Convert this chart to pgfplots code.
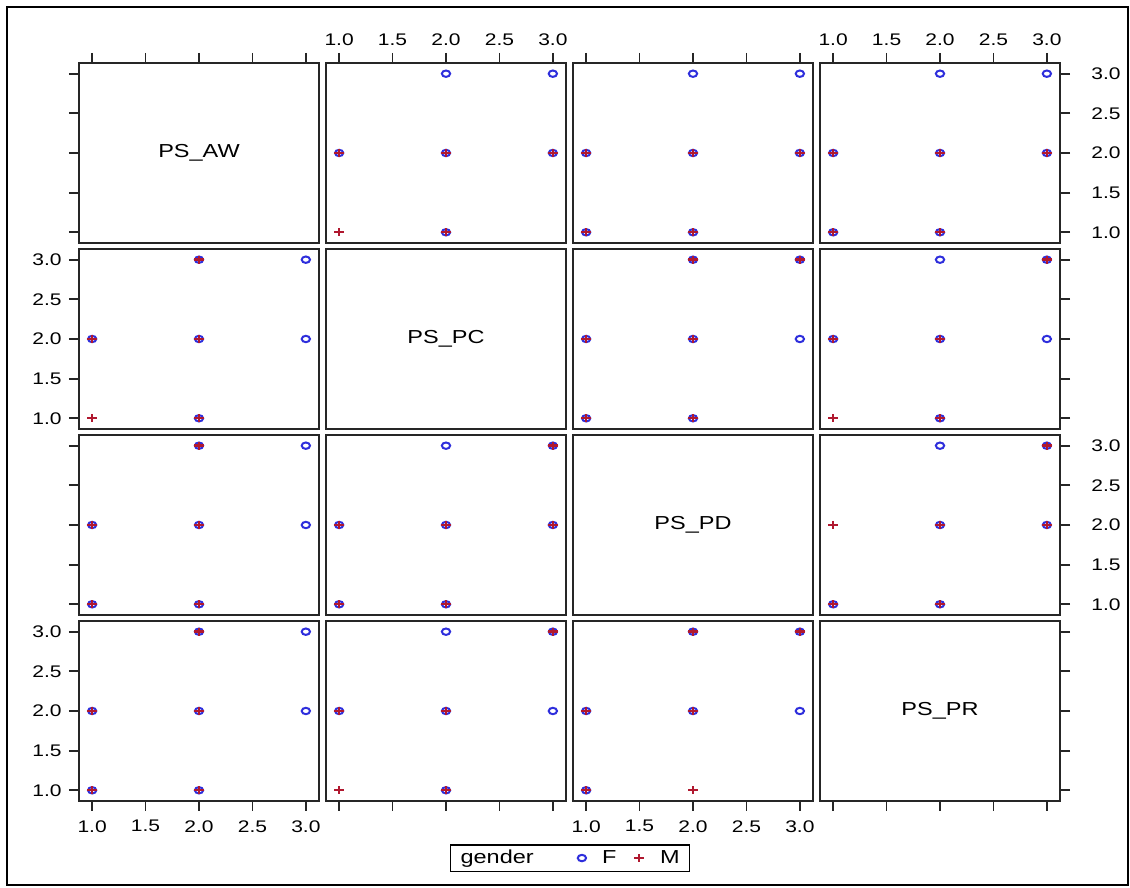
\documentclass[border=0pt]{standalone}
\usepackage{fontspec}
\setmainfont{Liberation Sans}[FakeStretch=1.25]
\usepackage{pgfplots}
\pgfplotsset{compat=1.18}
\usepgfplotslibrary{groupplots}

\definecolor{Fblue}{HTML}{2E2EDC}
\definecolor{Mred}{HTML}{B0182F}

\newcommand{\ticksize}{\fontsize{8.4}{9.5}\selectfont}
\newcommand{\diagsize}{\fontsize{9.4}{11}\selectfont}

\pgfplotsset{
  Fpts/.style={only marks, mark=o, color=Fblue, mark size=1.6pt,
    mark options={line width=1pt, xscale=1.3}},
  Mpts/.style={only marks, mark=+, color=Mred, mark size=2pt,
    mark options={line width=1.2pt, xscale=1.2}},
  top/.style={xtick pos=right, xticklabel pos=right},
  topnl/.style={xtick pos=right, xticklabels={}},
  bot/.style={xtick pos=left, xticklabel pos=left, xticklabel style={yshift=-1pt}},
  botnl/.style={xtick pos=left, xticklabels={}},
  noxt/.style={xtick=\empty},
  lft/.style={ytick pos=left, yticklabel pos=left},
  lftnl/.style={ytick pos=left, yticklabels={}},
  rgt/.style={ytick pos=right, yticklabel pos=right, yticklabel style={xshift=7pt}},
  rgtnl/.style={ytick pos=right, yticklabels={}},
  noyt/.style={ytick=\empty},
}

\begin{document}
\begin{tikzpicture}
\begin{groupplot}[
  group style={group size=4 by 4, horizontal sep=3.5pt, vertical sep=3pt, group name=G},
  scale only axis, width=120pt, height=90pt,
  xmin=0.877, xmax=3.123, ymin=0.865, ymax=3.135,
  xtick={1,1.5,2,2.5,3}, xticklabels={1.0,1.5,2.0,2.5,3.0},
  ytick={1,1.5,2,2.5,3}, yticklabels={1.0,1.5,2.0,2.5,3.0},
  tick align=outside, major tick length=5pt,
  tick style={line width=0.9pt, black!85},
  axis line style={line width=0.9pt, black!85},
  ticklabel style={font=\ticksize, inner sep=3.5pt},
]
% row 1 : PS_AW
\nextgroupplot[topnl, lftnl]
\node[font=\diagsize] at (rel axis cs:0.5,0.5) {PS\_AW};
\nextgroupplot[top, noyt]
\addplot[Fpts] coordinates {(2,3) (3,3) (1,2) (2,2) (3,2) (2,1)};
\addplot[Mpts] coordinates {(1,2) (2,2) (3,2) (1,1) (2,1)};
\nextgroupplot[topnl, noyt]
\addplot[Fpts] coordinates {(2,3) (3,3) (1,2) (2,2) (3,2) (1,1) (2,1)};
\addplot[Mpts] coordinates {(1,2) (2,2) (3,2) (1,1) (2,1)};
\nextgroupplot[top, rgt]
\addplot[Fpts] coordinates {(2,3) (3,3) (1,2) (2,2) (3,2) (1,1) (2,1)};
\addplot[Mpts] coordinates {(1,2) (2,2) (3,2) (1,1) (2,1)};
% row 2 : PS_PC
\nextgroupplot[noxt, lft]
\addplot[Fpts] coordinates {(1,2) (2,1) (2,2) (2,3) (3,2) (3,3)};
\addplot[Mpts] coordinates {(1,1) (1,2) (2,1) (2,2) (2,3)};
\nextgroupplot[noxt, noyt]
\node[font=\diagsize] at (rel axis cs:0.5,0.5) {PS\_PC};
\nextgroupplot[noxt, noyt]
\addplot[Fpts] coordinates {(2,3) (3,3) (1,2) (2,2) (3,2) (1,1) (2,1)};
\addplot[Mpts] coordinates {(2,3) (3,3) (1,2) (2,2) (1,1) (2,1)};
\nextgroupplot[noxt, rgtnl]
\addplot[Fpts] coordinates {(2,3) (3,3) (1,2) (2,2) (3,2) (2,1)};
\addplot[Mpts] coordinates {(3,3) (1,2) (2,2) (1,1) (2,1)};
% row 3 : PS_PD
\nextgroupplot[noxt, lftnl]
\addplot[Fpts] coordinates {(3,2) (3,3) (2,1) (2,2) (2,3) (1,1) (1,2)};
\addplot[Mpts] coordinates {(2,1) (2,2) (2,3) (1,1) (1,2)};
\nextgroupplot[noxt, noyt]
\addplot[Fpts] coordinates {(3,2) (3,3) (2,1) (2,2) (2,3) (1,1) (1,2)};
\addplot[Mpts] coordinates {(3,2) (3,3) (2,1) (2,2) (1,1) (1,2)};
\nextgroupplot[noxt, noyt]
\node[font=\diagsize] at (rel axis cs:0.5,0.5) {PS\_PD};
\nextgroupplot[noxt, rgt]
\addplot[Fpts] coordinates {(2,3) (3,3) (2,2) (3,2) (1,1) (2,1)};
\addplot[Mpts] coordinates {(3,3) (1,2) (2,2) (3,2) (1,1) (2,1)};
% row 4 : PS_PR
\nextgroupplot[bot, lft]
\addplot[Fpts] coordinates {(3,2) (3,3) (2,1) (2,2) (2,3) (1,1) (1,2)};
\addplot[Mpts] coordinates {(2,1) (2,2) (2,3) (1,1) (1,2)};
\nextgroupplot[botnl, noyt,
  legend columns=3,
  legend style={at={(1.017,-0.317)}, anchor=center, draw=black, line width=0.8pt,
    font=\diagsize, inner xsep=3pt, inner ysep=0.5pt,
    /tikz/column 2/.style={column sep=20pt},
    /tikz/column 3/.style={column sep=6pt},
    /tikz/column 4/.style={column sep=7pt},
    /tikz/column 5/.style={column sep=6pt}},
]
\addlegendimage{empty legend}
\addlegendentry{gender}
\addplot[Fpts] coordinates {(3,2) (3,3) (2,1) (2,2) (2,3) (1,2)};
\addlegendentry{F}
\addplot[Mpts] coordinates {(3,3) (2,1) (2,2) (1,1) (1,2)};
\addlegendentry{M}
\nextgroupplot[bot, noyt]
\addplot[Fpts] coordinates {(3,2) (3,3) (2,2) (2,3) (1,1) (1,2)};
\addplot[Mpts] coordinates {(3,3) (2,1) (2,2) (2,3) (1,1) (1,2)};
\nextgroupplot[botnl, rgtnl]
\node[font=\diagsize] at (rel axis cs:0.5,0.5) {PS\_PR};
\end{groupplot}
\pgfresetboundingbox
\path[use as bounding box] ([shift={(-39.5pt,31.5pt)}]G c1r1.north west) rectangle ++(565pt,-444pt);
\draw[line width=1.3pt] ([shift={(-36pt,28pt)}]G c1r1.north west) rectangle ([shift={(34pt,-42pt)}]G c4r4.south east);
\end{tikzpicture}
\end{document}
